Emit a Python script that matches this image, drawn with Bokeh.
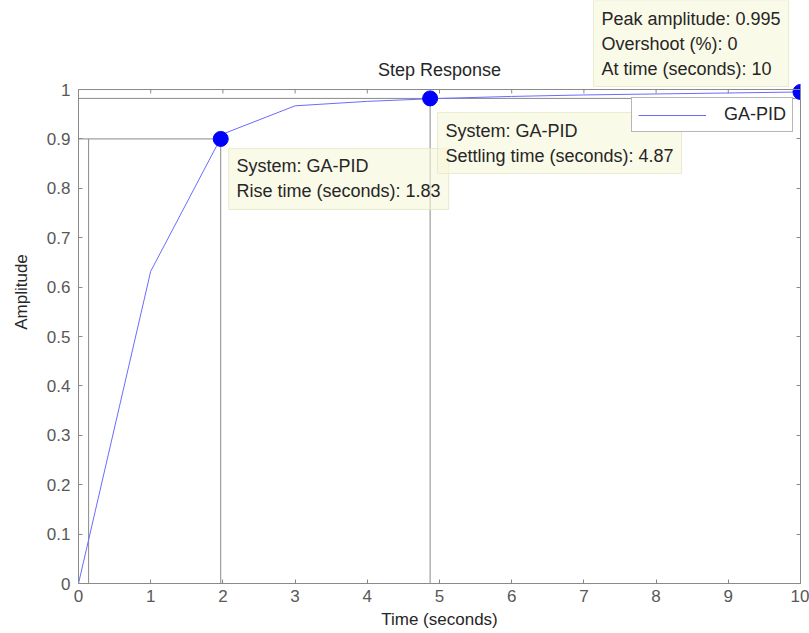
from bokeh.plotting import figure
from bokeh.models import (ColumnDataSource, Label, LinearAxis, FixedTicker, Range1d,
                          Legend, LegendItem, Span)
from bokeh.embed import file_html
from bokeh.resources import INLINE

# ---- data ----
time_s = [0, 1, 2, 3, 4, 5, 6, 7, 8, 9, 10]
amplitude = [0, 0.632, 0.91, 0.967, 0.976, 0.982, 0.986, 0.989, 0.991, 0.993, 0.995]

rise_start_t = 0.14
rise_end_t = 1.97
rise_level = 0.9
settle_t = 4.87
settle_level = 0.982
peak_t = 10
peak_amp = 0.995

marker_t = [rise_end_t, settle_t, peak_t]
marker_a = [rise_level, settle_level, peak_amp]

x_ticks = [0, 1, 2, 3, 4, 5, 6, 7, 8, 9, 10]
x_tick_labels = ["0", "1", "2", "3", "4", "5", "6", "7", "8", "9", "10"]
y_ticks = [0, 0.1, 0.2, 0.3, 0.4, 0.5, 0.6, 0.7, 0.8, 0.9, 1.0]
y_tick_labels = ["0", "0.1", "0.2", "0.3", "0.4", "0.5", "0.6", "0.7", "0.8", "0.9", "1"]

X_MIN, X_MAX = 0, 10
Y_MIN, Y_TOP_AXIS = 0, 1
Y_VIEW_MAX = 1.1802   # extra head room above the axes box for the top data tip

FONT = "Liberation Sans"
GRAY = "#8a8a8a"
TXT = "#262626"

p = figure(width=809, height=633, output_backend="svg", toolbar_location=None,
           x_range=Range1d(X_MIN, X_MAX), y_range=Range1d(Y_MIN, Y_VIEW_MAX),
           min_border_left=78, min_border_right=9, min_border_top=0, min_border_bottom=50)
p.xgrid.visible = False
p.ygrid.visible = False
p.outline_line_color = None
p.background_fill_color = "white"

def style_axis(ax):
    ax.axis_line_color = GRAY
    ax.major_tick_line_color = GRAY
    ax.major_tick_in = 4
    ax.major_tick_out = 0
    ax.minor_tick_line_color = None
    ax.major_label_text_font = FONT
    ax.major_label_text_font_size = "17px"
    ax.major_label_text_color = "#585858"
    ax.axis_label_text_font = FONT
    ax.axis_label_text_font_size = "17px"
    ax.axis_label_text_font_style = "normal"
    ax.axis_label_text_color = TXT

xax = p.xaxis[0]
xax.ticker = FixedTicker(ticks=x_ticks)
xax.major_label_overrides = {t: l for t, l in zip(x_ticks, x_tick_labels)}
xax.axis_label = "Time (seconds)"
style_axis(xax)
xax.bounds = (X_MIN, X_MAX)
xax.major_label_standoff = 6
xax.axis_label_standoff = 5

yax = p.yaxis[0]
yax.ticker = FixedTicker(ticks=y_ticks)
yax.major_label_overrides = {t: l for t, l in zip(y_ticks, y_tick_labels)}
yax.axis_label = "Amplitude"
style_axis(yax)
yax.bounds = (Y_MIN, Y_TOP_AXIS)
yax.major_label_standoff = 8
yax.axis_label_standoff = 13

right_ax = LinearAxis(ticker=FixedTicker(ticks=y_ticks))
style_axis(right_ax)
right_ax.major_label_overrides = {t: "" for t in y_ticks}
right_ax.bounds = (Y_MIN, Y_TOP_AXIS)
right_ax.major_label_standoff = 0
p.add_layout(right_ax, "right")

# top edge of the axes box and its tick marks
p.add_layout(Span(location=Y_TOP_AXIS, dimension="width", line_color=GRAY, line_width=1))
p.segment(x0=x_ticks, x1=x_ticks, y0=[Y_TOP_AXIS] * len(x_ticks),
          y1=[Y_TOP_AXIS - 0.008] * len(x_ticks), line_color=GRAY, line_width=1)

# characteristic lines
p.segment(x0=[X_MIN, rise_start_t, rise_end_t, settle_t, X_MIN],
          y0=[rise_level, Y_MIN, Y_MIN, Y_MIN, settle_level],
          x1=[rise_end_t, rise_start_t, rise_end_t, settle_t, X_MAX],
          y1=[rise_level, rise_level, rise_level, settle_level, settle_level],
          line_color=GRAY, line_width=1)

src = ColumnDataSource(dict(t=time_s, a=amplitude))
curve = p.line("t", "a", source=src, line_color="#6b6bff", line_width=1)
p.scatter(x=marker_t, y=marker_a, size=15, fill_color="#0000ff", line_color="#0000ff")

legend = Legend(items=[LegendItem(label="GA-PID", renderers=[curve])],
                location=(553, 451), margin=0, padding=6, spacing=0,
                glyph_width=68, glyph_height=20, label_standoff=18, label_height=20,
                label_text_font=FONT, label_text_font_size="18px", label_text_color=TXT,
                border_line_color="#6e6e6e", border_line_width=1,
                background_fill_color="white", background_fill_alpha=1)
p.add_layout(legend)

# title (inside the head room of the view)
p.add_layout(Label(x=(X_MIN + X_MAX) / 2, y=1.0385, text="Step Response",
                   text_font=FONT, text_font_size="18px", text_color=TXT,
                   text_align="center", text_baseline="middle"))

def tip(x, y, text):
    lab = Label(x=x, y=y, text=text, text_font=FONT, text_font_size="18px",
                text_color=TXT, text_baseline="top", text_align="left",
                text_line_height=1.25, padding=8,
                background_fill_color="#f7f7d8", background_fill_alpha=0.6,
                border_line_color="#e6e6c8", border_line_alpha=0.8)
    p.add_layout(lab)

tip(2.078, 0.8806, "System: GA-PID\nRise time (seconds): 1.83")
tip(4.972, 0.9534, "System: GA-PID\nSettling time (seconds): 4.87")
tip(7.133, 1.1802, "Peak amplitude: 0.995\nOvershoot (%): 0\nAt time (seconds): 10")

open("out.html", "w").write(file_html(p, INLINE))
